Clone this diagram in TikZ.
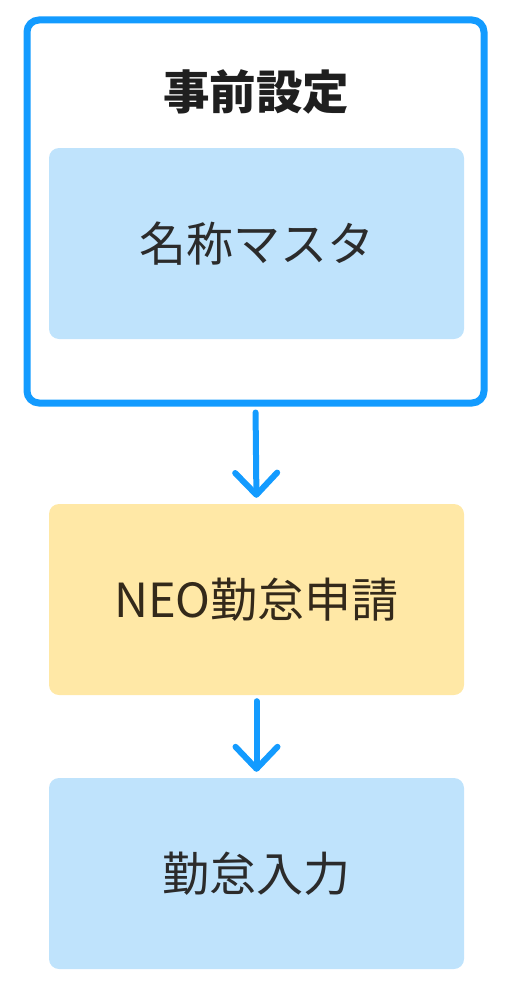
\documentclass[tikz,border=0pt]{standalone}
\usepackage{fontspec}
\newfontfamily\cjk{Noto Sans CJK JP}
\usetikzlibrary{positioning, arrows.meta}
\definecolor{frameblue}{HTML}{139BFF}
\definecolor{boxblue}{HTML}{BFE3FC}
\definecolor{boxyellow}{HTML}{FFE8A6}
\definecolor{textdark}{HTML}{2B2B2B}
\definecolor{textbrown}{HTML}{33291A}
\tikzstyle{frame} = [rectangle, draw=frameblue, line width=7pt, rounded corners=12pt, minimum width=457pt, minimum height=383pt]
\tikzstyle{blockb} = [rectangle, rounded corners=10pt, minimum width=415pt, minimum height=191pt, fill=boxblue, text=textdark, font=\cjk\fontsize{47}{47}\selectfont]
\tikzstyle{blocky} = [blockb, fill=boxyellow, text=textbrown]
\tikzstyle{title} = [font=\cjk\bfseries\fontsize{46.5}{46.5}\selectfont, text=black!88]
\tikzstyle{line} = [draw=frameblue, line width=6pt, line cap=round, -{Straight Barb[round, length=22pt, width=42pt]}]

\begin{document}
\begin{tikzpicture}[x=1pt, y=-1pt]
\useasboundingbox (0,0) rectangle (512,982);

\node [frame] (F) at (255.5,211.5) {};
\node [title] (T) at (256,92) {事前設定};
\node [blockb] (M) at (256.5,243.5) {名称マスタ};
\node [blocky, below of=M, node distance=356pt] (N) {NEO勤怠申請};
\node [blockb, below of=N, node distance=274pt] (K) {勤怠入力};

\path [line, shorten <=6pt, shorten >=6pt] (F.south) -- (N.north);
\path [line, shorten <=6pt, shorten >=6pt] (N.south) -- (K.north);

\end{tikzpicture}
\end{document}
